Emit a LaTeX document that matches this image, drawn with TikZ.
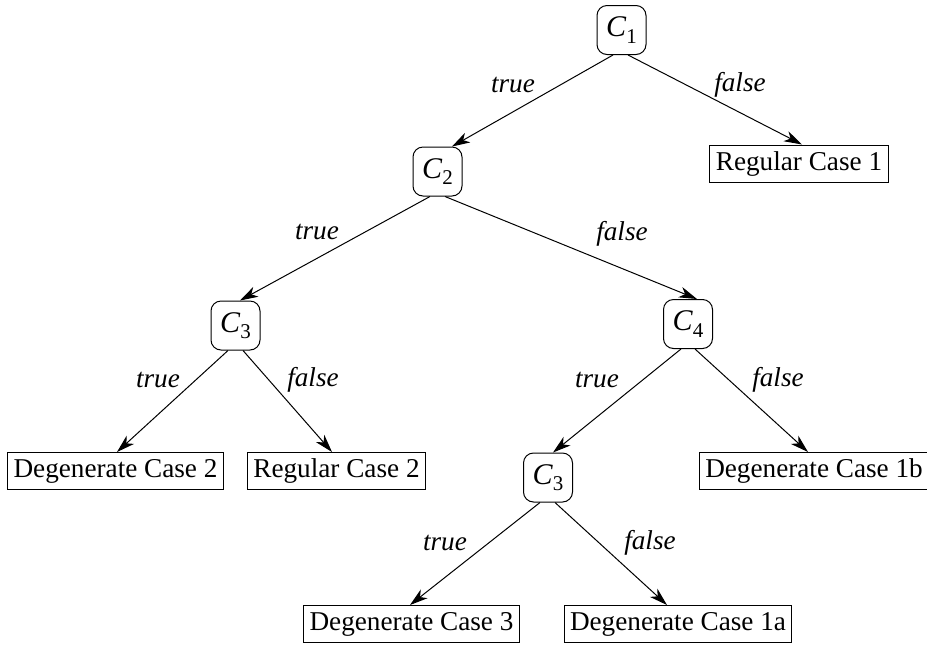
\documentclass[tikz,border=0pt]{standalone}
\usepackage{fontspec}
\setmainfont{Liberation Serif}
\usetikzlibrary{calc,arrows.meta}
\newcommand{\dfont}{\fontsize{13.6}{16}\selectfont}
\newcommand{\cname}[1]{{\fontsize{15}{16}\selectfont\itshape C}\kern0.2pt\raisebox{-3.2pt}{\fontsize{10.5}{10}\selectfont #1}}
\begin{document}
\begin{tikzpicture}[x=0.5pt,y=-0.5pt,
  every node/.append style={font=\dfont},
  cond/.style={draw,rounded corners=5pt,minimum width=24.5pt,minimum height=24.5pt,inner sep=0pt,line width=0.5pt},
  leaf/.style={draw,minimum height=18.5pt,inner xsep=3pt,inner ysep=0pt,line width=0.5pt},
  lbl/.style={font=\dfont\itshape,inner sep=0pt},
  edge/.style={line width=0.5pt,-{Stealth[length=9pt,width=5.5pt,inset=2.6pt]}}]
\useasboundingbox (0,0) rectangle (927,644);
% decision nodes
\node[cond] (c1) at (621.5,30) {\cname{1}};
\node[cond] (c2) at (437.5,171.5) {\cname{2}};
\node[cond] (c3) at (235.5,325.5) {\cname{3}};
\node[cond] (c4) at (688,324) {\cname{4}};
\node[cond] (c3b) at (548,477.5) {\cname{3}};
% leaves
\node[leaf] (r1) at (799,163.5) {Regular Case 1};
\node[leaf] (d2) at (115.5,471) {Degenerate Case 2};
\node[leaf] (r2) at (336.5,471) {Regular Case 2};
\node[leaf] (d1b) at (814,471) {Degenerate Case 1b};
\node[leaf] (d3) at (411.5,624) {Degenerate Case 3};
\node[leaf] (d1a) at (678,624) {Degenerate Case 1a};
% edges
\draw[edge] ($(c1.south)+(-8.5,0)$) -- ($(c2.north)+(14.5,0)$);
\draw[edge] ($(c1.south)+(6.5,0)$) -- ($(r1.north)+(3,0)$);
\draw[edge] ($(c2.south)+(-7.5,0)$) -- ($(c3.north)+(4.5,0)$);
\draw[edge] ($(c2.south)+(7.5,0)$) -- ($(c4.north)+(9,0)$);
\draw[edge] ($(c3.south)+(-7.5,0)$) -- ($(d2.north)+(1.5,0)$);
\draw[edge] ($(c3.south)+(7.5,0)$) -- ($(r2.north)+(-4.5,0)$);
\draw[edge] ($(c4.south)+(-7,0)$) -- ($(c3b.north)+(5,0)$);
\draw[edge] ($(c4.south)+(7,0)$) -- ($(d1b.north)+(-6,0)$);
\draw[edge] ($(c3b.south)+(-8,0)$) -- ($(d3.north)+(-1.5,0)$);
\draw[edge] ($(c3b.south)+(7,0)$) -- ($(d1a.north)+(-11,0)$);
% labels
\node[lbl] (t1) at (513,85) {true};
\node[lbl] (f1) at (740,85) {false};
\node[lbl] (t2) at (317,232) {true};
\node[lbl] (f2) at (622,234) {false};
\node[lbl] (t3) at (158,380) {true};
\node[lbl] (f3) at (313,380) {false};
\node[lbl] (t4) at (597,380) {true};
\node[lbl] (f4) at (778,380) {false};
\node[lbl] (t5) at (445,543) {true};
\node[lbl] (f5) at (650,543) {false};
\end{tikzpicture}
\end{document}
